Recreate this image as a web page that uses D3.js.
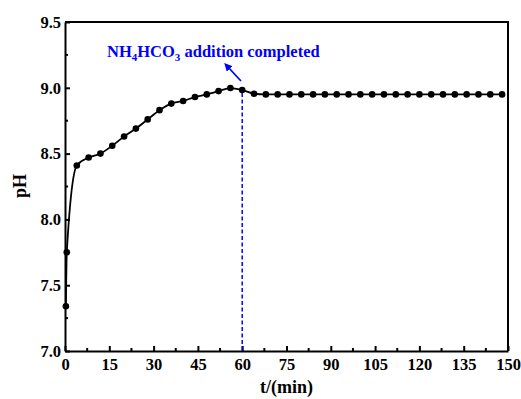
<!DOCTYPE html>
<html>
<head>
<meta charset="utf-8">
<script src="https://cdn.jsdelivr.net/npm/d3@7"></script>
<style>
  body { margin: 0; background: #fff; }
  text { font-family: "Liberation Serif", "Times New Roman", serif; font-weight: bold; }
</style>
</head>
<body>
<div id="chart"></div>
<script>
// data
const times = [0.3, 0.6, 4, 8, 12, 16, 20, 24, 28, 32, 36, 40, 44, 48, 52, 56, 60, 64,
  68, 72, 76, 80, 84, 88, 92, 96, 100, 104, 108, 112, 116, 120, 124, 128, 132, 136, 140, 144, 148];
const phValues = [7.34, 7.75, 8.41, 8.47, 8.50, 8.56, 8.63, 8.69, 8.76, 8.83, 8.88, 8.90, 8.93, 8.95, 8.975, 8.998, 8.983, 8.955,
  8.95, 8.95, 8.95, 8.95, 8.95, 8.95, 8.95, 8.95, 8.95, 8.95, 8.95, 8.95, 8.95, 8.95, 8.95, 8.95, 8.95, 8.95, 8.95, 8.95, 8.95];
const xTicks = [0, 15, 30, 45, 60, 75, 90, 105, 120, 135, 150];
const xMinor = [7.5, 22.5, 37.5, 52.5, 67.5, 82.5, 97.5, 112.5, 127.5, 142.5];
const yTicks = [7.0, 7.5, 8.0, 8.5, 9.0, 9.5];
const yMinor = [7.25, 7.75, 8.25, 8.75, 9.25];
const endTime = 60;

const width = 521, height = 399;
const m = { left: 65, top: 22, right: 13, bottom: 48 };
const w = width - m.left - m.right;
const h = height - m.top - m.bottom;
const serif = '"Liberation Serif", "Times New Roman", serif';

const svg = d3.select("#chart").append("svg")
  .attr("width", width)
  .attr("height", height);

const x = d3.scaleLinear().domain([0, 150]).range([0, w]);
const y = d3.scaleLinear().domain([7, 9.5]).range([h, 0]);

const g = svg.append("g").attr("transform", `translate(${m.left},${m.top})`);

// inward ticks
const xAxis = g.append("g").attr("transform", `translate(0,${h})`)
  .call(d3.axisBottom(x).tickValues(xTicks).tickSizeInner(-5).tickSizeOuter(0).tickPadding(15).tickFormat(d3.format("d")));
xAxis.append("g").selectAll("line").data(xMinor).join("line")
  .attr("x1", d => x(d)).attr("x2", d => x(d)).attr("y1", 0).attr("y2", -3)
  .attr("stroke", "#000").attr("stroke-width", 2);

const yAxis = g.append("g")
  .call(d3.axisLeft(y).tickValues(yTicks).tickSizeInner(-5).tickSizeOuter(0).tickPadding(4).tickFormat(d3.format(".1f")));
yAxis.append("g").selectAll("line").data(yMinor).join("line")
  .attr("y1", d => y(d)).attr("y2", d => y(d)).attr("x1", 0).attr("x2", 3)
  .attr("stroke", "#000").attr("stroke-width", 2);

[xAxis, yAxis].forEach(a => {
  a.attr("font-family", serif);
  a.select(".domain").attr("stroke-width", 2);
  a.selectAll(".tick line").attr("stroke-width", 2);
  a.selectAll(".tick text").attr("font-size", 16.5).attr("fill", "#000")
    .style("font-family", serif).style("font-weight", "bold");
});
xAxis.selectAll(".tick text").attr("dy", "0.25em");

// frame top and right
g.append("path")
  .attr("d", `M0,0H${w}V${h}`)
  .attr("fill", "none").attr("stroke", "#000").attr("stroke-width", 2);

// dashed marker for the end of addition
g.append("line")
  .attr("x1", x(endTime)).attr("x2", x(endTime))
  .attr("y1", y(8.983) + 3).attr("y2", h)
  .attr("stroke", "#0000ff").attr("stroke-width", 1.5).attr("stroke-dasharray", "4,2.5");

const pts = times.map((t, i) => [t, phValues[i]]);

g.append("path").datum(pts)
  .attr("fill", "none").attr("stroke", "#000").attr("stroke-width", 1.8)
  .attr("d", d3.line().x(d => x(d[0])).y(d => y(d[1])).curve(d3.curveMonotoneX));

g.selectAll(".dot").data(pts).join("circle")
  .attr("class", "dot")
  .attr("cx", d => x(d[0])).attr("cy", d => y(d[1]))
  .attr("r", 3.3).attr("fill", "#000");

// annotation
svg.append("defs").append("marker")
  .attr("id", "arrow").attr("viewBox", "0 0 10 10")
  .attr("refX", 5).attr("refY", 5)
  .attr("markerWidth", 4.5).attr("markerHeight", 4.5)
  .attr("orient", "auto-start-reverse")
  .append("path").attr("d", "M0,0L10,5L0,10z").attr("fill", "#0000ff");

svg.append("line")
  .attr("x1", 241).attr("y1", 81).attr("x2", 227).attr("y2", 66)
  .attr("stroke", "#0000ff").attr("stroke-width", 1.8)
  .attr("marker-end", "url(#arrow)");

const note = svg.append("text")
  .attr("x", 107).attr("y", 56.5)
  .attr("font-size", 16.5).attr("fill", "#0000ff");
note.append("tspan").text("NH");
note.append("tspan").attr("font-size", 11).attr("dy", 4).text("4");
note.append("tspan").attr("dy", -4).text("HCO");
note.append("tspan").attr("font-size", 11).attr("dy", 4).text("3");
note.append("tspan").attr("dy", -4).text(" addition completed");

// axis titles
svg.append("text")
  .attr("x", m.left + x(75)).attr("y", 393)
  .attr("text-anchor", "middle").attr("font-size", 18)
  .text("t/(min)");

svg.append("text")
  .attr("transform", `translate(26,186) rotate(-90)`)
  .attr("text-anchor", "middle").attr("font-size", 18)
  .text("pH");
</script>
</body>
</html>
